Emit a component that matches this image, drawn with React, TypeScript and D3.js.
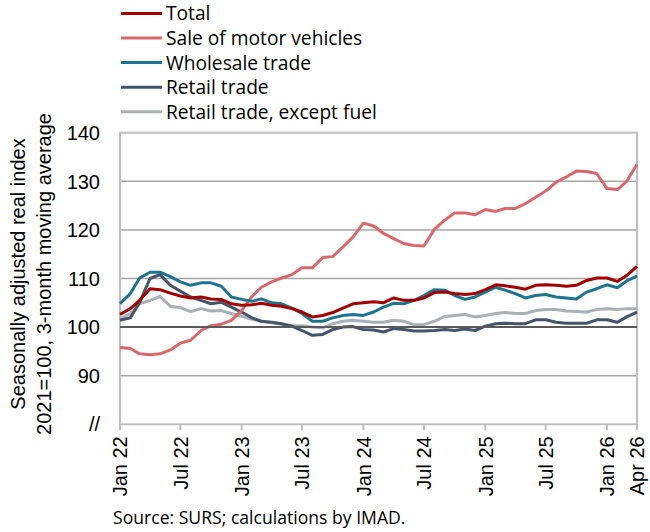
import React from "react";
import * as d3 from "d3";

const months: string[] = (() => {
  const out: string[] = [];
  for (let y = 2022; y <= 2026; y++) for (let m = 1; m <= 12; m++) {
    if (y === 2026 && m > 4) break;
    out.push(`${y}-${String(m).padStart(2, "0")}`);
  }
  return out;
})();

const total = [102.6,103.8,105.5,107.9,107.7,107.0,106.4,106.0,106.2,105.8,105.7,104.8,104.5,104.6,104.9,104.5,104.3,103.8,103.1,102.1,102.4,103.0,103.9,104.8,105.0,105.2,105.0,106.0,105.5,105.5,106.0,107.1,107.2,106.9,106.7,106.9,107.7,108.7,108.5,108.2,107.8,108.6,108.7,108.6,108.4,108.6,109.6,110.1,110.1,109.4,110.6,112.5];
const motorVehicles = [95.8,95.6,94.5,94.3,94.5,95.3,96.7,97.3,99.3,100.3,100.6,101.4,103.4,106.3,108.2,109.3,110.1,110.8,112.2,112.2,114.3,114.5,116.5,118.5,121.4,120.8,119.3,118.2,117.2,116.8,116.7,120.1,122.0,123.5,123.5,123.1,124.2,123.8,124.4,124.4,125.4,126.7,128.0,129.8,130.9,132.1,132.0,131.6,128.5,128.3,130.0,133.5];
const wholesale = [104.8,106.9,110.1,111.3,111.3,110.4,109.3,108.6,109.1,109.1,108.4,106.2,105.7,105.3,105.8,105.0,104.8,103.9,102.8,101.2,101.2,101.9,102.4,102.6,102.4,103.1,104.1,104.9,104.8,105.5,106.5,107.7,107.6,106.5,105.7,106.2,107.2,108.2,107.6,106.9,106.0,106.5,106.7,106.2,106.0,105.8,107.2,107.9,108.7,108.1,109.5,110.5];
const retail = [101.4,101.9,105.1,110.0,110.8,108.6,107.4,106.2,105.5,104.8,105.1,104.1,103.1,101.9,101.2,101.0,100.7,100.2,99.3,98.3,98.5,99.5,100.0,100.1,99.5,99.4,99.0,99.7,99.5,99.2,99.2,99.3,99.5,99.3,99.6,99.3,100.2,100.7,100.8,100.7,100.7,101.5,101.5,101.0,100.8,100.8,100.8,101.5,101.5,101.0,102.1,103.1];
const retailExFuel = [101.7,102.8,104.8,105.5,106.3,104.3,104.0,103.2,103.8,103.3,103.4,102.8,102.2,101.6,101.2,100.9,100.6,100.3,100.3,100.0,99.8,100.7,101.2,101.4,101.2,101.0,101.0,101.4,101.2,100.5,100.5,101.2,102.2,102.4,102.6,102.1,102.4,102.8,103.0,102.8,102.8,103.4,103.6,103.6,103.3,103.2,103.1,103.6,103.8,103.6,103.8,103.8];

const seriesNames = ["Total", "Sale of motor vehicles", "Wholesale trade", "Retail trade", "Retail trade, except fuel"];
const seriesColors = ["#a50000", "#d9686b", "#1d7490", "#44546a", "#abb0b6"];
const seriesData = [total, motorVehicles, wholesale, retail, retailExFuel];
const drawOrder = [4, 3, 1, 2, 0];

const xTickMonths = ["2022-01","2022-07","2023-01","2023-07","2024-01","2024-07","2025-01","2025-07","2026-01","2026-04"];
const xTickLabels = ["Jan 22","Jul 22","Jan 23","Jul 23","Jan 24","Jul 24","Jan 25","Jul 25","Jan 26","Apr 26"];
const yTicks = [90, 100, 110, 120, 130, 140];
const yMin = 80;
const yMax = 140;
const yTitle = ["Seasonally adjusted real index", "2021=100, 3-month moving average"];
const sourceText = "Source: SURS; calculations by IMAD.";

const parse = d3.timeParse("%Y-%m");

export default function App() {
  const W = 650, H = 532;
  const left = 120, right = 637, top = 132.7, bottom = 424.3;
  const x = d3.scaleTime().domain([parse(months[0])!, parse(months[months.length - 1])!]).range([left, right]);
  const y = d3.scaleLinear().domain([yMin, yMax]).range([bottom, top]);
  const dates = months.map((m) => parse(m)!);
  const line = d3.line<number>().x((_, i) => x(dates[i])).y((v) => y(v));
  const tickFont = "'Liberation Sans', Arial, sans-serif";
  const legendFont = "'Open Sans', 'Noto Sans', sans-serif";

  return (
    <svg width={W} height={H} style={{ position: "absolute", left: 0, top: 0, background: "#fff" }}>
      {/* legend */}
      {seriesNames.map((n, i) => (
        <g key={n} transform={`translate(0, ${13.4 + i * 24.6})`}>
          <line x1={121} x2={162} y1={0} y2={0} stroke={seriesColors[i]} strokeWidth={3} />
          <text x={166} y={0} dy="0.36em" fontFamily={legendFont} fontSize={19.2} fill="#000">{n}</text>
        </g>
      ))}

      {/* grid */}
      {yTicks.filter((t) => t !== 100 && t !== yMax).map((t) => (
        <line key={t} x1={left} x2={right} y1={y(t)} y2={y(t)} stroke="#a6a6a6" strokeWidth={1.5} />
      ))}
      {/* border */}
      <rect x={left} y={top} width={right - left} height={bottom - top} fill="none" stroke="#bfbfbf" strokeWidth={2} />

      {/* series */}
      {drawOrder.map((i) => (
        <path key={i} d={line(seriesData[i]) || ""} fill="none" stroke={seriesColors[i]} strokeWidth={3} strokeLinejoin="round" />
      ))}
      <line x1={left} x2={right} y1={y(100)} y2={y(100)} stroke="#595959" strokeWidth={2} />

      {/* y labels */}
      {yTicks.map((t) => (
        <text key={t} x={100} y={y(t)} dy="0.36em" textAnchor="end" fontFamily={tickFont} fontSize={20} fill="#000">{t}</text>
      ))}
      <text x={100} y={y(yMin) - 1} dy="0.36em" textAnchor="end" fontFamily={tickFont} fontSize={20} fill="#000">//</text>

      {/* x ticks */}
      {xTickMonths.map((m, i) => {
        const xx = x(parse(m)!);
        return (
          <g key={m}>
            <line x1={xx} x2={xx} y1={bottom} y2={bottom + 6} stroke="#bfbfbf" strokeWidth={2} />
            <text transform={`translate(${xx}, ${bottom + 12}) rotate(-90)`} dy="0.36em" textAnchor="end" fontFamily={tickFont} fontSize={20} fill="#000">{xTickLabels[i]}</text>
          </g>
        );
      })}

      {/* y title */}
      <text transform={`translate(25, 274) rotate(-90)`} textAnchor="middle" fontFamily={tickFont} fontSize={20} fill="#000">{yTitle[0]}</text>
      <text transform={`translate(51, 274) rotate(-90)`} textAnchor="middle" fontFamily={tickFont} fontSize={20} fill="#000">{yTitle[1]}</text>

      {/* source */}
      <text x={113} y={518} dy="0.36em" fontFamily={legendFont} fontSize={17.6} fill="#000">{sourceText}</text>
    </svg>
  );
}
